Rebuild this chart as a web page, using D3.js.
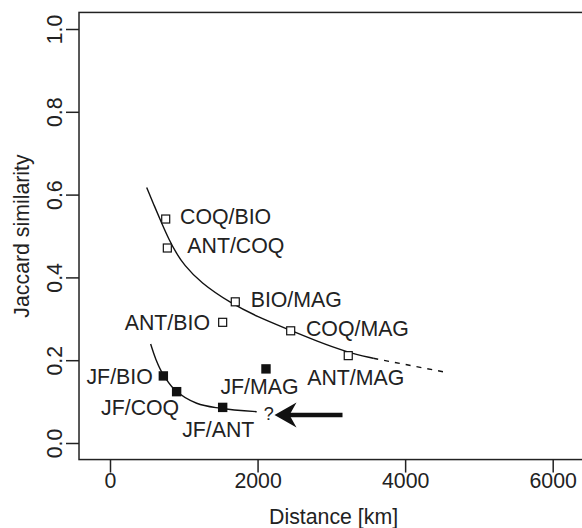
<!DOCTYPE html>
<html>
<head>
<meta charset="utf-8">
<script src="https://cdn.jsdelivr.net/npm/d3@7/dist/d3.min.js"></script>
<style>
  html, body { margin: 0; padding: 0; background: #fff; }
  svg { display: block; }
  text { font-family: "Liberation Sans", Arial, Helvetica, sans-serif; fill: #222; }
</style>
</head>
<body>
<svg id="chart" width="582" height="528"></svg>
<script>
// Site pairs among the coastal regions (open squares)
const coastLabels = ["COQ/BIO", "ANT/COQ", "BIO/MAG", "ANT/BIO", "COQ/MAG", "ANT/MAG"];
const coastDistance = [755, 777, 1698, 1527, 2449, 3229];
const coastJaccard = [0.541, 0.471, 0.341, 0.2915, 0.271, 0.211];

// Juan Fernández paired with each coastal region (filled squares)
const jfLabels = ["JF/BIO", "JF/COQ", "JF/ANT", "JF/MAG"];
const jfDistance = [723, 903, 1527, 2114];
const jfJaccard = [0.162, 0.124, 0.086, 0.179];

// Decay curves
const coastCurveDistance = [497, 600, 700, 800, 900, 1000, 1220, 1650, 2000, 2394, 2800, 3209, 3568];
const coastCurveJaccard = [0.617, 0.573, 0.531, 0.491, 0.458, 0.431, 0.388, 0.336, 0.305, 0.276, 0.246, 0.2195, 0.2046];
const coastExtDistance = [3568, 4516];
const coastExtJaccard = [0.2046, 0.172];
const jfCurveDistance = [551, 620, 700, 881, 1175, 1491, 1988];
const jfCurveJaccard = [0.239, 0.203, 0.172, 0.128, 0.096, 0.084, 0.0756];

// Axis ticks
const xTicks = [0, 2000, 4000, 6000];
const yTicks = [0.0, 0.2, 0.4, 0.6, 0.8, 1.0];
const yTickLabels = ["0.0", "0.2", "0.4", "0.6", "0.8", "1.0"];

const svg = d3.select("#chart");
const x = d3.scaleLinear().domain([0, 6000]).range([110, 552.7]);
const y = d3.scaleLinear().domain([0, 1]).range([443, 29]);

const ink = "#222";
const fontSize = 21.3;

// Plot box
const boxL = x(-420), boxR = x(6480), boxT = y(1.04), boxB = y(-0.04);
svg.append("rect")
  .attr("x", boxL).attr("y", boxT)
  .attr("width", boxR - boxL).attr("height", boxB - boxT)
  .attr("fill", "none").attr("stroke", ink).attr("stroke-width", 1.5);

// X axis
const xAxis = svg.append("g").attr("transform", `translate(0,${boxB})`)
  .call(d3.axisBottom(x).tickValues(xTicks).tickFormat(d3.format("d")).tickSize(13).tickPadding(16));
xAxis.select(".domain").remove();
xAxis.selectAll(".tick line").attr("stroke", ink).attr("stroke-width", 1.5);
xAxis.selectAll(".tick text")
  .attr("font-size", fontSize).attr("fill", ink)
  .attr("font-family", "Liberation Sans, Arial, sans-serif")
  .attr("dy", null).attr("y", 28.5);

// Y axis
const yAxis = svg.append("g").attr("transform", `translate(${boxL},0)`)
  .call(d3.axisLeft(y).tickValues(yTicks).tickFormat((d, i) => yTickLabels[i]).tickSize(13));
yAxis.select(".domain").remove();
yAxis.selectAll(".tick line").attr("stroke", ink).attr("stroke-width", 1.5);
yAxis.selectAll(".tick text")
  .attr("font-size", fontSize).attr("fill", ink)
  .attr("font-family", "Liberation Sans, Arial, sans-serif")
  .attr("x", null).attr("dy", null)
  .attr("text-anchor", "middle")
  .attr("transform", `translate(${62.3 - boxL},0) rotate(-90)`);

// Axis titles
svg.append("text")
  .attr("x", (boxL + boxR) / 2).attr("y", 524)
  .attr("text-anchor", "middle").attr("font-size", fontSize)
  .text("Distance [km]");
svg.append("text")
  .attr("transform", `translate(28.5,${(boxT + boxB) / 2}) rotate(-90)`)
  .attr("text-anchor", "middle").attr("font-size", fontSize)
  .text("Jaccard similarity");

// Curves
const zip = (a, b) => a.map((v, i) => [v, b[i]]);
const smooth = d3.line().x(d => x(d[0])).y(d => y(d[1])).curve(d3.curveBasis);
const through = d3.line().x(d => x(d[0])).y(d => y(d[1])).curve(d3.curveCatmullRom.alpha(0.5));

svg.append("path")
  .attr("d", smooth(zip(coastCurveDistance, coastCurveJaccard)))
  .attr("fill", "none").attr("stroke", "#111").attr("stroke-width", 1.4);
svg.append("path")
  .attr("d", d3.line().x(d => x(d[0])).y(d => y(d[1]))(zip(coastExtDistance, coastExtJaccard)))
  .attr("fill", "none").attr("stroke", "#111").attr("stroke-width", 1.4)
  .attr("stroke-dasharray", "5,6");
svg.append("path")
  .attr("d", through(zip(jfCurveDistance, jfCurveJaccard)))
  .attr("fill", "none").attr("stroke", "#111").attr("stroke-width", 1.4);

// Label placement relative to each point: [dx, dy, anchor]
const labelPlace = {
  "COQ/BIO": [14.3, 5.3, "start"],
  "ANT/COQ": [20, 5.3, "start"],
  "BIO/MAG": [15.4, 5.6, "start"],
  "ANT/BIO": [-12.7, 7.7, "end"],
  "COQ/MAG": [15.3, 5.3, "start"],
  "ANT/MAG": [7.5, 29.3, "middle"],
  "JF/BIO": [-10.6, 8, "end"],
  "JF/COQ": [-36.5, 23.6, "middle"],
  "JF/ANT": [-4.4, 30, "middle"],
  "JF/MAG": [-6.5, 25.3, "middle"]
};

// Open squares
const coast = coastLabels.map((l, i) => ({ label: l, d: coastDistance[i], j: coastJaccard[i] }));
svg.append("g").selectAll("rect").data(coast).join("rect")
  .attr("x", d => x(d.d) - 4).attr("y", d => y(d.j) - 4)
  .attr("width", 8).attr("height", 8)
  .attr("fill", "#fff").attr("stroke", "#111").attr("stroke-width", 1.2);

// Filled squares
const jf = jfLabels.map((l, i) => ({ label: l, d: jfDistance[i], j: jfJaccard[i] }));
svg.append("g").selectAll("rect").data(jf).join("rect")
  .attr("x", d => x(d.d) - 4.7).attr("y", d => y(d.j) - 4.7)
  .attr("width", 9.4).attr("height", 9.4)
  .attr("fill", "#111");

// Point labels
svg.append("g").selectAll("text").data(coast.concat(jf)).join("text")
  .attr("x", d => x(d.d) + labelPlace[d.label][0])
  .attr("y", d => y(d.j) + labelPlace[d.label][1])
  .attr("text-anchor", d => labelPlace[d.label][2])
  .attr("font-size", fontSize)
  .text(d => d.label);

// Unknown value for the missing pair, with pointer
const qPos = [2085, 0.0548];
svg.append("text")
  .attr("x", x(qPos[0])).attr("y", y(qPos[1]))
  .attr("text-anchor", "start").attr("font-size", 18)
  .text("?");

const arrowY = y(0.0676);
const tipX = 274.5;
svg.append("line")
  .attr("x1", tipX + 14).attr("x2", 342.5)
  .attr("y1", arrowY).attr("y2", arrowY)
  .attr("stroke", "#111").attr("stroke-width", 4.7);
svg.append("path")
  .attr("d", `M${tipX},${arrowY} L${tipX + 22},${arrowY - 12.5} L${tipX + 15},${arrowY} L${tipX + 22},${arrowY + 12.5} Z`)
  .attr("fill", "#111");
</script>
</body>
</html>
